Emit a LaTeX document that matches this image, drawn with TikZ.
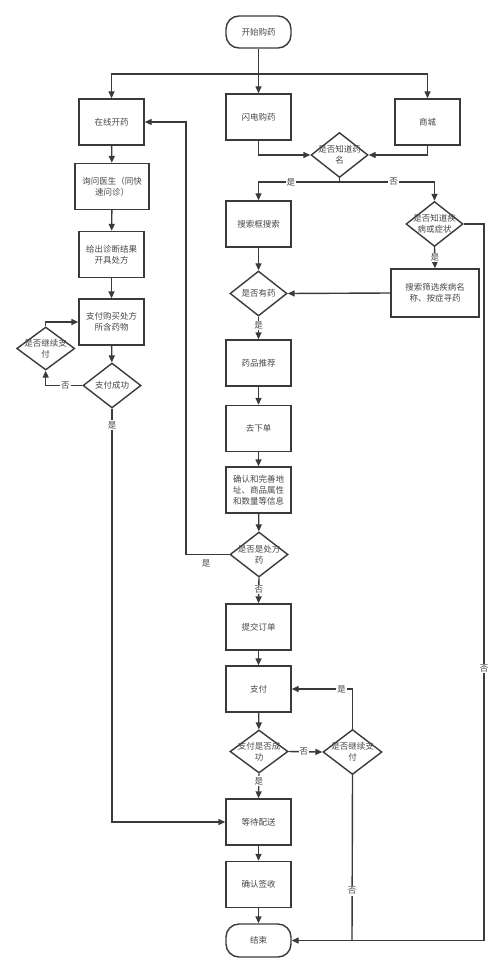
\documentclass[tikz,border=0pt]{standalone}
\usepackage{fontspec}
\setmainfont{Noto Sans CJK SC}
\usetikzlibrary{arrows.meta,shapes.geometric,calc}
\definecolor{ln}{HTML}{3A3A3A}
\definecolor{tx}{HTML}{474747}
\begin{document}
\begin{tikzpicture}[x=1pt,y=-1pt,
  every node/.style={font=\fontsize{8.5}{11}\selectfont, text=tx},
  box/.style={draw=ln, line width=1.4pt, rectangle, minimum width=65pt, minimum height=46pt, inner sep=1pt, align=center},
  term/.style={draw=ln, line width=1.4pt, rectangle, rounded corners=13pt, minimum width=65pt, minimum height=32pt, inner sep=1pt},
  dia/.style={draw=ln, line width=1.4pt, diamond, minimum width=57pt, minimum height=45pt, inner sep=0pt},
  dtxt/.style={align=center, inner sep=0pt},
  arr/.style={draw=ln, line width=1.4pt, -{Triangle[length=7pt,width=6pt]}},
  ln/.style={draw=ln, line width=1.4pt},
  lab/.style={fill=white, inner sep=1pt}
]
\useasboundingbox (0,0) rectangle (500,973);
% nodes
\node[term] (start) at (258.5,32) {开始购药};
\node[box] (zx) at (111.5,122) {在线开药};
\node[box] (sd) at (258.5,117) {闪电购药};
\node[box] (sc) at (427.5,122) {商城};
\node[dia, label={[dtxt]center:{是否知道药\\名}}] (d1) at (339.5,155) {};
\node[box, minimum width=74pt] (wy) at (112,186.5) {询问医生（同快\\速问诊）};
\node[box] (ss) at (258.5,224) {搜索框搜索};
\node[dia, label={[dtxt]center:{是否知道疾\\病或症状}}] (d2) at (434.5,224) {};
\node[box] (zd) at (111.5,254.5) {给出诊断结果\\开具处方};
\node[dia, label={[dtxt]center:{是否有药}}] (d3) at (258.5,293.5) {};
\node[box, minimum width=88pt, minimum height=48pt] (sx) at (435,293) {搜索筛选疾病名\\称、按症寻药};
\node[box] (zf1) at (111.5,322) {支付购买处方\\所含药物};
\node[dia, minimum width=58pt, minimum height=43pt, label={[dtxt]center:{是否继续支\\付}}] (jx1) at (45.7,348.5) {};
\node[dia, minimum width=58pt, label={[dtxt]center:{支付成功}}] (cg1) at (112,385.5) {};
\node[box] (tj) at (258.5,363) {药品推荐};
\node[box] (xd) at (258.5,428.5) {去下单};
\node[box] (qr) at (258.5,490) {确认和完善地\\址、商品属性\\和数量等信息};
\node[dia, minimum width=58pt, label={[dtxt]center:{是否是处方\\药}}] (cf) at (259,554.5) {};
\node[box] (dd) at (258.5,627) {提交订单};
\node[box] (zf) at (258.5,689) {支付};
\node[dia, minimum width=58pt, minimum height=43pt, label={[dtxt]center:{支付是否成\\功}}] (cg) at (259,751.5) {};
\node[dia, minimum width=59pt, label={[dtxt]center:{是否继续支\\付}}] (jx) at (352.5,752) {};
\node[box] (ps) at (258.5,822) {等待配送};
\node[box] (qs) at (258.5,884.5) {确认签收};
\node[term, minimum height=33pt] (end) at (258.5,940.5) {结束};
% junction coordinates
\coordinate (j1) at (258.5,74);
\coordinate (j2) at (339.5,182);
\coordinate (j3) at (484,224);
\coordinate (j4) at (484,940.5);
\coordinate (j5) at (186,554.5);
\coordinate (j6) at (352,940.5);
% connectors
\draw[arr] (start) -- (sd);
\draw[arr] (j1) -| (zx);
\draw[arr] (j1) -| (sc);
\draw[arr] (sd.south) |- (d1.west);
\draw[arr] (sc.south) |- (d1.east);
\draw[ln] (d1.south) -- (j2);
\draw[arr] (j2) -| node[lab, pos=0.3] {是} (ss.north);
\draw[arr] (j2) -| node[lab, pos=0.285] {否} (d2.north);
\draw[ln] (d2.east) -- (j3) -- node[lab, pos=0.62] {否} (j4);
\draw[arr] (j4) -- (end.east);
\draw[arr] (d2.south) -- node[lab] {是} (sx.north);
\draw[arr] (sx.west) -- (d3.east);
\draw[arr] (ss.south) -- (d3.north);
\draw[arr] (d3.south) -- node[lab, pos=0.4] {是} (tj.north);
\draw[arr] (tj) -- (xd);
\draw[arr] (xd) -- (qr);
\draw[arr] (qr) -- (cf);
\draw[ln] (cf.west) -- (j5);
\node[tx] (lshi) at (206,563) {是};
\draw[arr] (j5) |- (zx.east);
\draw[arr] (cf.south) -- node[lab, pos=0.45] {否} (dd.north);
\draw[arr] (dd) -- (zf);
\draw[arr] (zf) -- (cg);
\draw[arr] (cg.east) -- node[lab, pos=0.45] {否} (jx.west);
\draw[arr] (jx.north) |- node[lab, pos=0.59] {是} (zf.east);
\draw[ln] (jx.south) -- node[lab, pos=0.7] {否} (j6);
\draw[arr] (cg.south) -- node[lab, pos=0.3] {是} (ps.north);
\draw[arr] (ps) -- (qs);
\draw[arr] (qs) -- (end);
\draw[arr] (zx) -- (wy);
\draw[arr] (wy) -- (zd);
\draw[arr] (zd) -- (zf1);
\draw[arr] (zf1) -- (cg1);
\draw[arr] (cg1.west) -| node[lab, pos=0.23] {否} (jx1.south);
\draw[arr] (jx1.north) |- (zf1.west);
\draw[arr] (cg1.south) |- node[lab, pos=0.02] {是} (ps.west);
\end{tikzpicture}
\end{document}
